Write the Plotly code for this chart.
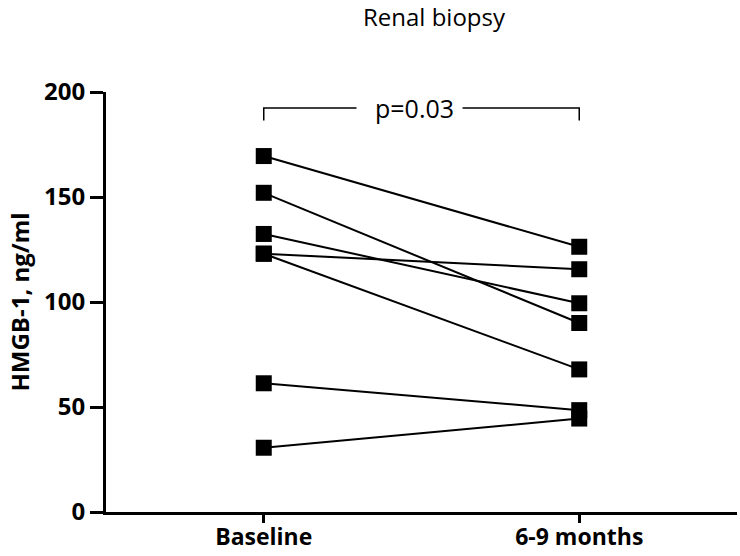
import plotly.graph_objects as go

# ---- data ----
categories = ["Baseline", "6-9 months"]
baseline = [169.5, 152.0, 132.4, 123.0, 123.0, 61.3, 30.6]
followup = [126.3, 90.0, 99.4, 115.6, 67.9, 48.5, 44.5]
y_ticks = [0, 50, 100, 150, 200]
title_text = "Renal biopsy"
y_title = "HMGB-1, ng/ml"
p_text = "p=0.03"
bracket_y = 192.4
bracket_drop = 6.0

FONT = "Open Sans"

fig = go.Figure()
for b, f in zip(baseline, followup):
    fig.add_trace(go.Scatter(
        x=categories, y=[b, f], mode="lines+markers",
        line=dict(color="black", width=2),
        marker=dict(symbol="square", size=16, color="black"),
        showlegend=False, cliponaxis=False,
    ))

# significance bracket
gap_left, gap_right = 0.294, 0.630
fig.add_shape(type="path", xref="x", yref="y",
              path=f"M 0 {bracket_y - bracket_drop} L 0 {bracket_y} L {gap_left} {bracket_y}",
              line=dict(color="black", width=1.5))
fig.add_shape(type="path", xref="x", yref="y",
              path=f"M {gap_right} {bracket_y} L 1 {bracket_y} L 1 {bracket_y - bracket_drop}",
              line=dict(color="black", width=1.5))
fig.add_annotation(x=0.478, y=bracket_y, xref="x", yref="y",
                   text=p_text, showarrow=False, yanchor="middle",
                   font=dict(family=FONT, size=25, color="black"))

fig.update_layout(
    width=740, height=556,
    margin=dict(l=106, r=3, t=92, b=44),
    paper_bgcolor="white", plot_bgcolor="white",
    title=dict(text=title_text, x=434 / 740, y=1 - 18 / 556, xanchor="center", yanchor="middle",
               font=dict(family=FONT, size=24, color="black")),
)
fig.update_xaxes(
    type="category", range=[-0.5, 1.5], automargin=False,
    showline=True, linecolor="black", linewidth=3,
    ticks="outside", ticklen=8, tickwidth=3, tickcolor="black",
    ticklabelstandoff=-6,
    showgrid=False, zeroline=False,
    tickfont=dict(family=FONT, size=23, color="black", weight="bold"),
)
fig.update_yaxes(
    range=[0, 200], tickvals=y_ticks, automargin=False,
    showline=True, linecolor="black", linewidth=3,
    ticks="outside", ticklen=13, tickwidth=3, tickcolor="black",
    showgrid=False, zeroline=False,
    tickfont=dict(family=FONT, size=24, color="black", weight="bold"),
    title=dict(text=y_title, standoff=8,
               font=dict(family=FONT, size=24, color="black", weight="bold")),
)

fig.write_html("out.html", config={"displayModeBar": False},
               post_script="document.body.style.margin='0';")
